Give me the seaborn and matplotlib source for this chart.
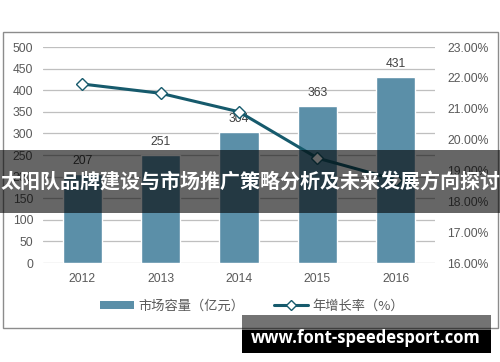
import matplotlib
matplotlib.use("Agg")
import matplotlib.pyplot as plt
import seaborn as sns
import pandas as pd
from matplotlib.patches import Rectangle, Patch
from matplotlib.lines import Line2D

years = ["2012", "2013", "2014", "2015", "2016"]
capacity = [207, 251, 304, 363, 431]
growth = [21.8, 21.5, 20.9, 19.4, 18.7]
left_ticks = [0, 50, 100, 150, 200, 250, 300, 350, 400, 450, 500]
right_ticks = [16, 17, 18, 19, 20, 21, 22, 23]
bar_label = "市场容量（亿元）"
line_label = "年增长率（%）"
title = "太阳队品牌建设与市场推广策略分析及未来发展方向探讨"
watermark = "www.font-speedesport.com"

BAR = "#5b8fa8"
LINE = "#165a6c"
TXT = "#595959"
NUMFONT = ["Liberation Sans", "DejaVu Sans"]

sns.set_theme(style="white")
plt.rcParams["font.family"] = ["Noto Sans CJK SC", "DejaVu Sans"]

df = pd.DataFrame({"year": years, "capacity": capacity, "growth": growth})

W, H = 500, 362
fig = plt.figure(figsize=(W / 100, H / 100), dpi=100)
ax = fig.add_axes([43 / W, 1 - 263 / H, (435 - 43) / W, (263 - 47) / H])

sns.barplot(data=df, x="year", y="capacity", color=BAR, width=0.5, saturation=1, ax=ax, zorder=2)
ax.set_ylim(0, 500)
ax.set_yticks(left_ticks)
ax.yaxis.grid(True, color="#bfbfbf", lw=0.9, zorder=0)
ax.set_axisbelow(True)
for s in ax.spines.values():
    s.set_visible(False)
ax.set_xlabel("")
ax.set_ylabel("")
ax.tick_params(axis="y", length=0, pad=7, labelsize=8.7, labelcolor=TXT)
ax.tick_params(axis="x", length=0, pad=7, labelsize=8.7, labelcolor=TXT)
for t in ax.get_xticklabels() + ax.get_yticklabels():
    t.set_fontfamily(NUMFONT)
ax.bar_label(ax.containers[0], padding=5, fontsize=8.7, color="#404040",
             fontfamily=NUMFONT)

ax2 = ax.twinx()
sns.pointplot(data=df, x="year", y="growth", ax=ax2, color=LINE, markers="D",
              markersize=6, markerfacecolor="white", markeredgecolor=LINE,
              markeredgewidth=1.0, linewidth=2.2, errorbar=None)
ax2.set_ylim(16, 23)
ax2.set_yticks(right_ticks)
ax2.set_yticklabels([f"{v:.2f}%" for v in right_ticks])
for s in ax2.spines.values():
    s.set_visible(False)
ax2.set_ylabel("")
ax2.set_xlabel("")
ax2.tick_params(axis="y", length=0, pad=9, labelsize=8.7, labelcolor=TXT)
for t in ax2.get_yticklabels():
    t.set_fontfamily(NUMFONT)
ax2.grid(False)

handles = [
    Patch(facecolor=BAR, edgecolor="none"),
    Line2D([0], [0], color=LINE, lw=2.2, marker="D", markersize=5,
           markerfacecolor="white", markeredgecolor=LINE),
]
fig.legend(handles, [bar_label, line_label], loc="center",
           bbox_to_anchor=(252 / W, 1 - 306 / H), ncol=2, frameon=False,
           fontsize=9.5, labelcolor=TXT, handlelength=2.6, handleheight=0.55,
           columnspacing=2.2, handletextpad=0.35)

# outer frame
fig.add_artist(Rectangle((3 / W, 1 - 328 / H), (498 - 3) / W, (328 - 32) / H,
                         transform=fig.transFigure, fill=False,
                         edgecolor="#8c8c8c", lw=1.0, zorder=5))

# banner overlay
fig.add_artist(Rectangle((0, 1 - 213 / H), 1, (213 - 150) / H,
                         transform=fig.transFigure, facecolor="black",
                         alpha=0.6, edgecolor="none", zorder=10))
fig.text(0.5, 1 - 181 / H, title, ha="center", va="center", color="white",
         fontsize=14.4, fontweight="bold", zorder=11,
         family=["Noto Sans CJK SC", "DejaVu Sans"])

# watermark
fig.add_artist(Rectangle((242 / W, 1 - 330 / H), (491 - 242) / W, 15 / H,
                         transform=fig.transFigure, facecolor="black",
                         alpha=0.55, edgecolor="none", zorder=10))
fig.add_artist(Rectangle((242 / W, 1 - 353 / H), (491 - 242) / W, 23 / H,
                         transform=fig.transFigure, facecolor="black",
                         edgecolor="none", zorder=10))
fig.text(366 / W, 1 - 338 / H, watermark, ha="center", va="center",
         color="white", fontsize=12, fontweight="bold", zorder=11,
         family=["Open Sans", "DejaVu Sans"])

fig.savefig("out.png", dpi=100)
